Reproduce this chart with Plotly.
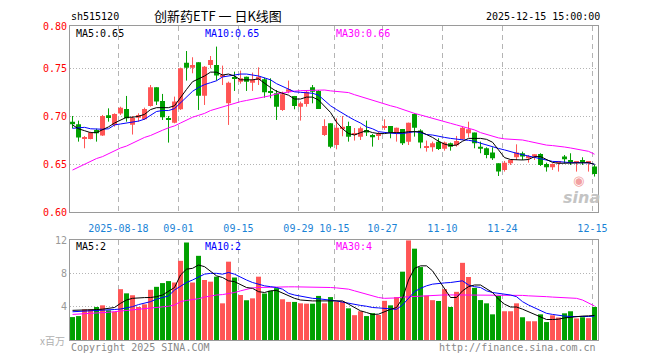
import plotly.graph_objects as go

# ---------------- data ----------------
opens = [0.6944, 0.6917, 0.6770, 0.6764, 0.6858, 0.6800, 0.7010, 0.6910, 0.7028, 0.7076,
         0.6913, 0.6986, 0.6969, 0.7108, 0.7302, 0.7160, 0.6976, 0.6934, 0.7073, 0.7559,
         0.7507, 0.7563, 0.7215, 0.7535, 0.7535, 0.7417, 0.7135, 0.7399, 0.7361, 0.7413,
         0.7350, 0.7378, 0.7385, 0.7257, 0.7240, 0.7066, 0.7257, 0.7212, 0.7100, 0.7128,
         0.7302, 0.7264, 0.6806, 0.6927, 0.6701, 0.6868, 0.6899, 0.6810, 0.6788, 0.6858,
         0.6806, 0.6795, 0.6885, 0.6899, 0.6830, 0.6868, 0.6736, 0.7024, 0.6851, 0.6674,
         0.6677, 0.6736, 0.6663, 0.6719, 0.6698, 0.6764, 0.6823, 0.6830, 0.6684, 0.6667,
         0.6622, 0.6510, 0.6441, 0.6510, 0.6573, 0.6615, 0.6563, 0.6580, 0.6608, 0.6503,
         0.6469, 0.6514, 0.6580, 0.6531, 0.6517, 0.6531, 0.6517, 0.6476]
highs = [0.7003, 0.6955, 0.6795, 0.6840, 0.6871, 0.7014, 0.7083, 0.7031, 0.7100, 0.7212,
         0.7003, 0.7031, 0.7090, 0.7326, 0.7302, 0.7233, 0.7003, 0.7205, 0.7507, 0.7680,
         0.7615, 0.7563, 0.7524, 0.7628, 0.7726, 0.7528, 0.7361, 0.7465, 0.7476, 0.7413,
         0.7455, 0.7510, 0.7403, 0.7396, 0.7274, 0.7257, 0.7372, 0.7212, 0.7153, 0.7274,
         0.7326, 0.7274, 0.6969, 0.6927, 0.6979, 0.7003, 0.6944, 0.6878, 0.6892, 0.6955,
         0.6816, 0.6840, 0.6969, 0.6899, 0.6882, 0.6868, 0.6934, 0.7031, 0.6865, 0.6747,
         0.6736, 0.6771, 0.6736, 0.6726, 0.6795, 0.6892, 0.6944, 0.6830, 0.6736, 0.6677,
         0.6677, 0.6510, 0.6535, 0.6552, 0.6708, 0.6632, 0.6597, 0.6604, 0.6615, 0.6517,
         0.6510, 0.6535, 0.6597, 0.6615, 0.6528, 0.6573, 0.6528, 0.6493]
lows = [0.6875, 0.6736, 0.6667, 0.6760, 0.6736, 0.6795, 0.6944, 0.6892, 0.7014, 0.6944,
        0.6810, 0.6944, 0.6962, 0.7101, 0.7118, 0.6962, 0.6726, 0.6927, 0.7066, 0.7372,
        0.7448, 0.7066, 0.7118, 0.7500, 0.7372, 0.7326, 0.6910, 0.7264, 0.7340, 0.7264,
        0.7264, 0.7326, 0.7194, 0.7188, 0.6962, 0.7056, 0.7240, 0.7073, 0.6955, 0.7100,
        0.7135, 0.7076, 0.6795, 0.6667, 0.6656, 0.6792, 0.6736, 0.6747, 0.6753, 0.6795,
        0.6684, 0.6753, 0.6858, 0.6771, 0.6736, 0.6701, 0.6701, 0.6788, 0.6667, 0.6632,
        0.6632, 0.6649, 0.6642, 0.6642, 0.6684, 0.6753, 0.6780, 0.6667, 0.6615, 0.6563,
        0.6545, 0.6378, 0.6424, 0.6493, 0.6545, 0.6545, 0.6517, 0.6545, 0.6483, 0.6424,
        0.6441, 0.6424, 0.6510, 0.6493, 0.6424, 0.6493, 0.6424, 0.6372]
closes = [0.6917, 0.6780, 0.6774, 0.6830, 0.6823, 0.7003, 0.6983, 0.7024, 0.7090, 0.6979,
          0.6983, 0.7014, 0.7076, 0.7302, 0.7153, 0.6990, 0.6969, 0.7153, 0.7500, 0.7507,
          0.7535, 0.7215, 0.7517, 0.7587, 0.7424, 0.7424, 0.7350, 0.7396, 0.7396, 0.7361,
          0.7378, 0.7413, 0.7250, 0.7253, 0.7100, 0.7229, 0.7281, 0.7108, 0.7135, 0.7257,
          0.7257, 0.7076, 0.6899, 0.6684, 0.6882, 0.6892, 0.6788, 0.6823, 0.6875, 0.6830,
          0.6781, 0.6813, 0.6892, 0.6830, 0.6882, 0.6719, 0.6934, 0.6882, 0.6726, 0.6677,
          0.6719, 0.6660, 0.6726, 0.6684, 0.6743, 0.6882, 0.6865, 0.6719, 0.6663, 0.6597,
          0.6563, 0.6424, 0.6517, 0.6545, 0.6622, 0.6580, 0.6587, 0.6604, 0.6493, 0.6469,
          0.6503, 0.6517, 0.6552, 0.6528, 0.6520, 0.6528, 0.6520, 0.6400]
volumes = [2.75, 2.87, 3.68, 3.68, 3.96, 4.16, 3.56, 3.39, 6.10, 5.60,
           5.37, 3.96, 4.28, 6.02, 6.38, 6.83, 7.07, 6.90, 9.50, 11.70,
           6.90, 10.10, 7.20, 7.00, 7.60, 4.40, 9.40, 7.50, 5.40, 4.77,
           5.00, 7.60, 5.58, 5.90, 6.22, 4.89, 4.57, 4.57, 4.40, 4.36,
           4.36, 5.29, 4.40, 5.15, 4.60, 4.60, 3.80, 2.98, 3.45, 2.87,
           3.22, 3.00, 4.70, 4.16, 5.15, 8.20, 11.95, 10.96, 8.75, 5.33,
           4.78, 4.68, 6.10, 3.96, 5.78, 9.26, 7.56, 6.26, 4.79, 4.40,
           3.08, 5.30, 3.45, 3.45, 4.40, 2.73, 2.25, 2.25, 3.08, 2.15,
           2.96, 2.70, 3.20, 3.45, 2.59, 2.73, 2.62, 3.96]
ma5 = [0.691, 0.687, 0.685, 0.683, 0.683, 0.686, 0.689, 0.693, 0.696, 0.699,
       0.699, 0.700, 0.702, 0.707, 0.709, 0.709, 0.709, 0.711, 0.720, 0.728,
       0.736, 0.739, 0.742, 0.746, 0.746, 0.743, 0.744, 0.742, 0.738, 0.738,
       0.738, 0.739, 0.734, 0.730, 0.726, 0.724, 0.722, 0.718, 0.718, 0.720,
       0.720, 0.717, 0.711, 0.704, 0.694, 0.687, 0.682, 0.6805, 0.683, 0.685,
       0.683, 0.682, 0.682, 0.683, 0.683, 0.683, 0.684, 0.684, 0.684, 0.681,
       0.678, 0.674, 0.671, 0.6695, 0.670, 0.674, 0.677, 0.677, 0.677, 0.676,
       0.673, 0.665, 0.657, 0.655, 0.6545, 0.6545, 0.655, 0.658, 0.658, 0.655,
       0.652, 0.651, 0.651, 0.651, 0.6517, 0.6517, 0.6517, 0.650]
ma10 = [0.6875, 0.688, 0.6885, 0.687, 0.6865, 0.6865, 0.687, 0.691, 0.692, 0.693,
        0.6935, 0.695, 0.697, 0.701, 0.705, 0.706, 0.706, 0.708, 0.714, 0.721,
        0.726, 0.730, 0.733, 0.735, 0.737, 0.741, 0.742, 0.743, 0.744, 0.744,
        0.743, 0.742, 0.740, 0.738, 0.734, 0.731, 0.728, 0.7255, 0.725, 0.7245,
        0.724, 0.722, 0.716, 0.711, 0.707, 0.703, 0.6995, 0.696, 0.693, 0.689,
        0.687, 0.684, 0.683, 0.6825, 0.682, 0.682, 0.683, 0.684, 0.683, 0.681,
        0.6805, 0.679, 0.678, 0.677, 0.676, 0.6755, 0.675, 0.674, 0.672, 0.670,
        0.668, 0.6665, 0.665, 0.663, 0.6615, 0.660, 0.6585, 0.657, 0.656, 0.6545,
        0.653, 0.6528, 0.652, 0.6517, 0.6517, 0.6517, 0.6515, 0.650]
ma30 = [0.644, 0.647, 0.650, 0.653, 0.656, 0.658, 0.661, 0.664, 0.667, 0.669,
        0.672, 0.675, 0.678, 0.680, 0.683, 0.6855, 0.688, 0.690, 0.693, 0.696,
        0.699, 0.701, 0.703, 0.706, 0.708, 0.710, 0.712, 0.714, 0.7153, 0.7165,
        0.7177, 0.719, 0.720, 0.7215, 0.7233, 0.7245, 0.7257, 0.7262, 0.7267, 0.727,
        0.7274, 0.7274, 0.7274, 0.7265, 0.7257, 0.725, 0.7247, 0.7225, 0.7205, 0.719,
        0.717, 0.715, 0.7128, 0.711, 0.7094, 0.707, 0.7049, 0.703, 0.7014, 0.6995,
        0.698, 0.696, 0.6945, 0.6927, 0.691, 0.6895, 0.688, 0.6858, 0.683, 0.681,
        0.679, 0.6775, 0.6765, 0.676, 0.6755, 0.6753, 0.674, 0.6725, 0.671, 0.670,
        0.6695, 0.669, 0.668, 0.667, 0.666, 0.665, 0.6635, 0.6605]
vma5 = [3.56, 3.56, 3.56, 3.60, 3.65, 3.70, 3.80, 3.90, 4.40, 4.80,
        5.00, 5.09, 5.09, 5.10, 5.20, 5.40, 5.80, 6.30, 7.80, 8.50,
        8.60, 9.00, 8.80, 8.30, 7.70, 7.50, 7.10, 7.00, 6.60, 6.30,
        6.20, 5.80, 5.70, 5.90, 5.95, 5.60, 5.30, 5.00, 4.80, 4.70,
        4.69, 4.69, 4.69, 4.69, 4.69, 4.69, 4.30, 3.90, 3.50, 3.30,
        3.07, 3.10, 3.40, 3.68, 3.90, 5.00, 7.20, 8.60, 8.90, 8.90,
        8.30, 7.20, 6.10, 5.10, 5.10, 5.90, 6.40, 6.60, 6.60, 6.20,
        5.70, 4.90, 4.30, 3.96, 3.96, 3.70, 3.40, 3.07, 2.80, 2.46,
        2.46, 2.50, 2.65, 2.75, 2.80, 2.87, 2.90, 2.95]
vma10 = [3.39, 3.42, 3.45, 3.47, 3.52, 3.56, 3.60, 3.66, 3.72, 3.86,
         4.00, 4.25, 4.40, 4.60, 4.90, 5.10, 5.29, 6.00, 6.50, 6.90,
         7.20, 7.60, 7.90, 8.00, 8.00, 7.90, 8.10, 7.90, 7.50, 7.20,
         6.90, 6.70, 6.50, 6.40, 6.30, 6.10, 5.60, 5.40, 5.25, 5.10,
         5.00, 4.95, 4.89, 4.80, 4.69, 4.55, 4.40, 4.25, 4.15, 4.05,
         3.90, 3.85, 3.80, 3.75, 3.68, 4.20, 5.00, 5.80, 6.20, 6.50,
         6.70, 6.80, 6.85, 6.90, 7.00, 7.10, 6.60, 6.40, 6.30, 5.90,
         5.70, 5.60, 5.58, 5.40, 5.20, 4.60, 4.20, 3.85, 3.50, 3.20,
         3.07, 2.95, 2.87, 2.82, 2.79, 2.79, 2.82, 2.87]
vma30 = [3.07, 3.10, 3.13, 3.15, 3.22, 3.27, 3.33, 3.40, 3.47, 3.55,
         3.60, 3.68, 3.78, 3.85, 3.90, 3.96, 4.05, 4.20, 4.60, 4.75,
         4.85, 4.95, 5.15, 5.30, 5.40, 5.45, 5.55, 5.70, 5.90, 6.10,
         6.25, 6.30, 6.33, 6.35, 6.38, 6.38, 6.38, 6.38, 6.38, 6.38,
         6.38, 6.38, 6.35, 6.30, 6.25, 6.20, 6.10, 5.90, 5.70, 5.50,
         5.30, 5.10, 5.00, 5.00, 5.05, 5.15, 5.20, 5.25, 5.29, 5.33,
         5.37, 5.41, 5.41, 5.41, 5.41, 5.41, 5.41, 5.41, 5.41, 5.41,
         5.41, 5.41, 5.41, 5.40, 5.38, 5.35, 5.30, 5.29, 5.25, 5.20,
         5.15, 5.10, 5.09, 5.05, 5.00, 4.80, 4.48, 4.08]
tick_idx = [8, 18, 28, 38, 44, 52, 62, 72, 87]
tick_labels = ["2025-08-18", "09-01", "09-15", "09-29", "10-15", "10-27", "11-10", "11-24", "12-15"]
price_ticks = [0.60, 0.65, 0.70, 0.75]
price_tick_labels = ["0.60", "0.65", "0.70", "0.75", "0.80"]
vol_ticks = [4, 8, 12]
vol_tick_labels = ["4", "8", "12"]

# ---------------- styling ----------------
RED = "#ff5555"
GREEN = "#00a000"
MONO = "DejaVu Sans Mono"
W, H = 660, 360
L, R, T, B = 70, 62, 26, 20
PW, PH = W - L - R, H - T - B

def px(xp):
    return (xp - L) / PW

def py(yp):
    return (H - B - yp) / PH

n = len(closes)
x = list(range(n))
up = [c >= o for o, c in zip(opens, closes)]
colors = [RED if u else GREEN for u in up]
body_base = [min(o, c) for o, c in zip(opens, closes)]
body_h = [max(abs(c - o), 0.0011) for o, c in zip(opens, closes)]

price_top = 0.60 + (212.3 - 26) / 960.0
price_dom0 = py(212.3)
vol_dom1 = py(240)

fig = go.Figure()
for flag, col in [(True, RED), (False, GREEN)]:
    wx, wy = [], []
    for i in x:
        if up[i] == flag:
            wx += [i, i, None]
            wy += [lows[i], highs[i], None]
    fig.add_trace(go.Scatter(x=wx, y=wy, mode="lines", line=dict(color=col, width=1),
                             xaxis="x", yaxis="y", hoverinfo="skip"))
fig.add_trace(go.Bar(x=x, y=body_h, base=body_base, width=0.83,
                     marker=dict(color=colors, line=dict(width=0)), xaxis="x", yaxis="y"))
for arr, col in [(ma30, "#ff00ff"), (ma10, "#0000ff"), (ma5, "#000000")]:
    fig.add_trace(go.Scatter(x=x, y=arr, mode="lines", line=dict(color=col, width=1),
                             xaxis="x", yaxis="y"))

fig.add_trace(go.Bar(x=x, y=volumes, width=0.83, marker=dict(color=colors, line=dict(width=0)),
                     xaxis="x2", yaxis="y2"))
for arr, col in [(vma30, "#ff00ff"), (vma10, "#0000ff"), (vma5, "#000000")]:
    fig.add_trace(go.Scatter(x=x, y=arr, mode="lines", line=dict(color=col, width=1),
                             xaxis="x2", yaxis="y2"))

grid_x = [t - 0.35 for t in tick_idx]
xcommon = dict(range=[-0.42, n - 0.42], showgrid=True, gridcolor="#b4b4b4", griddash="5px,4px",
               gridwidth=1, showline=True, mirror=True, linecolor="#9a9a9a", linewidth=1,
               zeroline=False, tickvals=grid_x, ticks="")
fig.update_layout(
    width=W, height=H, margin=dict(l=L, r=R, t=T, b=B),
    paper_bgcolor="white", plot_bgcolor="white", showlegend=False, barmode="overlay",
    xaxis=dict(**xcommon, anchor="y", ticktext=tick_labels,
               tickfont=dict(family=MONO, size=10, color="#1a83d6"), ticklabelstandoff=7),
    xaxis2=dict(**xcommon, anchor="y2", matches="x", showticklabels=False),
    yaxis=dict(domain=[price_dom0, 1], range=[0.60, price_top],
               tickvals=price_ticks + [price_top], ticktext=price_tick_labels,
               showgrid=True, gridcolor="#b4b4b4", griddash="1px,2px", zeroline=False,
               showline=True, mirror=True, linecolor="#9a9a9a", ticks="",
               tickfont=dict(family=MONO, size=10, color="#ff0000")),
    yaxis2=dict(domain=[0, vol_dom1], range=[0, 12], tickvals=vol_ticks, ticktext=vol_tick_labels,
                showgrid=True, gridcolor="#b4b4b4", griddash="1px,2px", zeroline=False,
                showline=True, mirror=True, linecolor="#9a9a9a", ticks="",
                tickfont=dict(family=MONO, size=10, color="#999999")),
)

def note(text, xp, yp, color="#000", size=10, family=MONO, xanchor="left", **kw):
    fig.add_annotation(text=text, x=px(xp), y=py(yp), xref="paper", yref="paper",
                       xanchor=xanchor, yanchor="middle", showarrow=False,
                       font=dict(family=family, size=size, color=color), borderpad=0, **kw)

note("sh515120", 70, 16.5)
note("创新药ETF 一 日K线图", 217.5, 15.5, size=13, family="Noto Sans CJK SC", xanchor="center")
note("2025-12-15 15:00:00", 601, 16.5, xanchor="right")
note("MA5:0.65", 75, 33.5)
note("MA10:0.65", 204, 33.5, color="#0000ff")
note("MA30:0.66", 335, 33.5, color="#ff00ff")
note("MA5:2", 75, 246)
note("MA10:2", 204, 246, color="#0000ff")
note("MA30:4", 335, 246, color="#ff00ff")
note("x百万", 66, 340, color="#b0b0b0", xanchor="right", family="Noto Sans CJK SC")
note("Copyright 2025 SINA.COM", 70, 347, color="#888888")
note("http://finance.sina.com.cn", 597, 347, color="#888888", xanchor="right")
note("◉", 578, 180, color="#f2a0a0", size=13, family="DejaVu Sans", xanchor="center")
note("<b><i>sina</i></b>", 581, 197, color="#c4c4c4", size=16, family="DejaVu Sans", xanchor="center")

fig.write_html("out.html", config={"displayModeBar": False},
               post_script="document.body.style.margin='0';document.body.style.overflow='hidden';")
